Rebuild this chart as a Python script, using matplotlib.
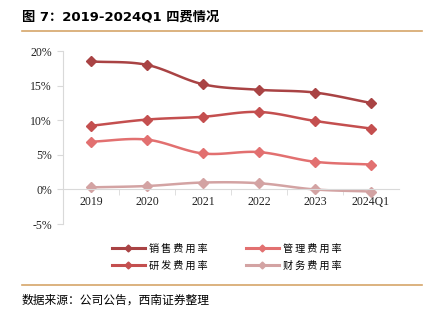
import numpy as np
import matplotlib
matplotlib.use('Agg')
import matplotlib.pyplot as plt
from matplotlib.lines import Line2D

plt.rcParams['font.family'] = ['Liberation Serif', 'Noto Sans CJK SC']

years = ['2019', '2020', '2021', '2022', '2023', '2024Q1']
sales = [18.5, 18.0, 15.2, 14.4, 14.0, 12.5]      # 销售费用率
rnd = [9.2, 10.1, 10.5, 11.2, 9.9, 8.8]            # 研发费用率
admin = [6.9, 7.2, 5.2, 5.4, 4.0, 3.6]             # 管理费用率
finance = [0.3, 0.5, 1.0, 0.9, 0.0, -0.3]          # 财务费用率

# legend is filled column by column: 销售/研发 left, 管理/财务 right
names = ['销售费用率', '研发费用率', '管理费用率', '财务费用率']
series = [sales, rnd, admin, finance]
colors = ['#A94344', '#C44F4F', '#E27070', '#D3A3A3']


def smooth(x, y, n=20):
    # catmull-rom path through the points, like excel smoothed lines
    x = np.asarray(x, float)
    y = np.asarray(y, float)
    px = np.concatenate([[2 * x[0] - x[1]], x, [2 * x[-1] - x[-2]]])
    py = np.concatenate([[2 * y[0] - y[1]], y, [2 * y[-1] - y[-2]]])
    xs, ys = [], []
    t = np.linspace(0, 1, n)
    for i in range(1, len(px) - 2):
        for p, out in ((px, xs), (py, ys)):
            p0, p1, p2, p3 = p[i - 1], p[i], p[i + 1], p[i + 2]
            out.extend(0.5 * ((2 * p1) + (-p0 + p2) * t
                              + (2 * p0 - 5 * p1 + 4 * p2 - p3) * t ** 2
                              + (-p0 + 3 * p1 - 3 * p2 + p3) * t ** 3))
    return xs, ys


fig = plt.figure(figsize=(4.23, 3.21), dpi=100)
ax = fig.add_axes([0.149, 0.302, 0.794, 0.539])

x = np.arange(len(years))
for vals, c in zip(series, colors):
    sx, sy = smooth(x, vals)
    ax.plot(sx, sy, color=c, lw=1.8)
    ax.plot(x, vals, ls='none', marker='D', ms=5, color=c)

ax.set_xlim(-0.5, len(years) - 0.5)
ax.set_ylim(-5, 20)
ax.set_yticks([-5, 0, 5, 10, 15, 20])
ax.set_yticklabels(['-5%', '0%', '5%', '10%', '15%', '20%'])
ax.set_xticks(x)
ax.set_xticklabels(years)
ax.set_xticks(np.arange(0.5, len(years) - 0.5), minor=True)

for s in ['top', 'right']:
    ax.spines[s].set_visible(False)
ax.spines['left'].set_color('#D9D9D9')
ax.spines['bottom'].set_color('#D9D9D9')
ax.spines['bottom'].set_position(('data', 0))
ax.tick_params(axis='y', colors='#D9D9D9', labelcolor='#222222', labelsize=8.5, length=4, pad=4)
ax.tick_params(axis='x', which='major', length=0, labelcolor='#222222', labelsize=8.5, pad=5)
ax.tick_params(axis='x', which='minor', length=4, colors='#D9D9D9')

handles = [Line2D([0], [0], color=c, lw=2.2, marker='D', ms=3.5) for c in colors]
spaced = ['\u2009'.join(n) for n in names]
fig.legend(handles, spaced, ncol=2, loc='upper left', bbox_to_anchor=(0.253, 0.256),
           frameon=False, prop={'family': ['Noto Sans CJK SC', 'DejaVu Sans'], 'size': 7.3},
           borderpad=0, handlelength=3.2, columnspacing=3.8, labelspacing=0.62,
           handletextpad=0.45)

fig.text(0.052, 0.948, '图 7：2019-2024Q1 四费情况', fontsize=9.5, fontweight='bold',
         family=['DejaVu Sans', 'Noto Sans CJK SC'], va='center')
fig.add_artist(Line2D([0.052, 0.998], [0.903, 0.903], color='#D6A66A', lw=1.2))
fig.add_artist(Line2D([0.052, 0.998], [0.112, 0.112], color='#D6A66A', lw=1.2))
fig.text(0.052, 0.065, '数据来源：公司公告，西南证券整理', fontsize=8.5, style='italic',
         family='Noto Sans CJK SC', va='center')

fig.savefig('out.png', dpi=100)
